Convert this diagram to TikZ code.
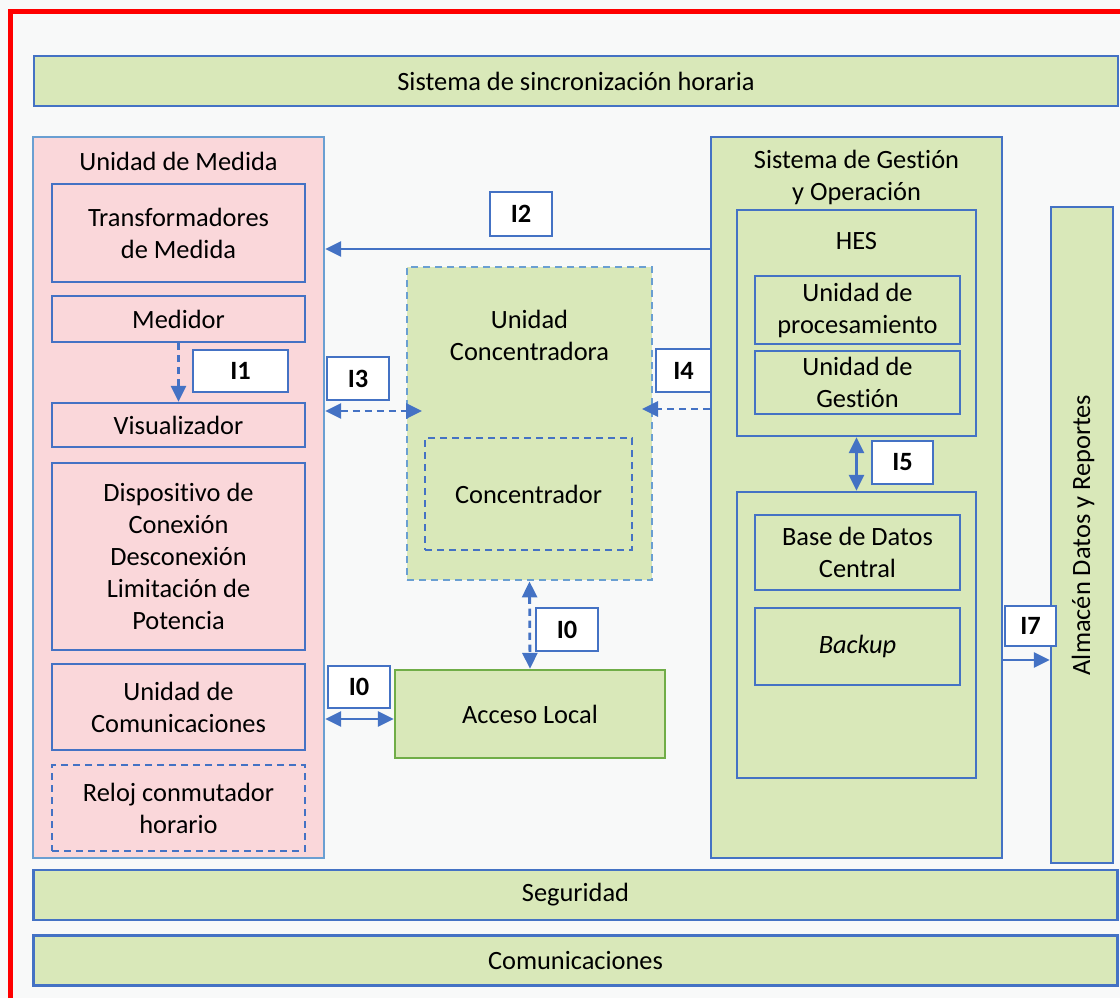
\documentclass[tikz,border=0pt]{standalone}
\usepackage{fontspec}
\setmainfont{Carlito}[Ligatures=NoCommon]
\usetikzlibrary{arrows.meta}
\definecolor{boxgreen}{HTML}{D9E8B9}
\definecolor{boxpink}{HTML}{FAD7DA}
\definecolor{lineblue}{HTML}{4472C4}
\definecolor{paleblue}{HTML}{6A9FD2}
\definecolor{linegreen}{HTML}{70AD47}
\definecolor{paper}{HTML}{F8F9F9}

\begin{document}
\begin{tikzpicture}
[x=0.5pt, y=-0.5pt,
 every node/.style={align=center, font=\fontsize{13.2}{16}\selectfont},
 sz/.style 2 args={minimum width=#1*0.5pt, minimum height=#2*0.5pt},
 box/.style={draw=lineblue, line width=1.2pt, inner sep=0pt},
 bar/.style={box, fill=boxgreen, sz={1084}{50}},
 part/.style={box, fill=boxpink, minimum width=126.5pt},
 unit/.style={box, fill=boxgreen, minimum width=102.5pt},
 dashline/.style={line width=1.4pt, dash pattern=on 3.6pt off 2.4pt},
 tag/.style={box, fill=white, font=\bfseries\fontsize{13.2}{16}\selectfont},
 link/.style={lineblue, line width=1.3pt, -{Triangle[length=8pt, width=7.5pt]}},
 link2/.style={link, {Triangle[length=8pt, width=7.5pt]}-{Triangle[length=8pt, width=7.5pt]}}
]
\useasboundingbox (0,0) rectangle (1120,998);
\fill[paper] (0,0) rectangle (1120,998);
\draw[red, line width=2.6pt] (10.5,998) -- (10.5,11.5) -- (1120,11.5);

\node[bar] (sinc) at (576,81) {Sistema de sincronización horaria};
\node[bar] (seg)  at (575.5,895) {Seguridad};
\node[bar] (com)  at (575.5,960.5) {Comunicaciones};

% unidad de medida
\node[box, draw=paleblue, fill=boxpink, sz={291}{721}] (medida) at (178.5,497.5) {};
\node (medidaT) at (178.5,161) {Unidad de Medida};
\node[part, minimum height=49pt]   (trafo) at (178.5,233)   {Transformadores\\de Medida};
\node[part, minimum height=23pt]   (medidor) at (178.5,319) {Medidor};
\node[part, minimum height=22pt]   (visual) at (178.5,425)  {Visualizador};
\node[part, minimum height=93.5pt] (disp) at (178.5,556.5)  {Dispositivo de\\Conexión\\Desconexión\\Limitación de\\Potencia};
\node[part, minimum height=43pt]   (ucom) at (178.5,707)    {Unidad de\\Comunicaciones};
\node[part, minimum height=43pt, dashline] (reloj) at (178.5,808) {Reloj conmutador\\horario};

% concentradora
\node[box, draw=paleblue, fill=boxgreen, dashline, sz={245}{313}] (conc) at (529.5,423.5) {};
\node (concT) at (529.5,335) {Unidad\\Concentradora};
\node[box, fill=boxgreen, dashline, sz={207}{112}] (concentrador) at (528.5,494) {Concentrador};
\node[box, draw=linegreen, fill=boxgreen, sz={270}{88}] (acceso) at (530,714) {Acceso Local};

% gestion
\node[box, fill=boxgreen, sz={291}{721}] (gestion) at (856.5,497.5) {};
\node (gestionT) at (856.5,177) {Sistema de Gestión\\y Operación};
\node[box, fill=boxgreen, sz={239}{226}] (hes) at (856.5,323) {};
\node (hesT) at (856.5,241) {HES};
\node[unit, minimum height=34pt]   (proc) at (857.5,310)   {Unidad de\\procesamiento};
\node[unit, minimum height=31.5pt] (ugest) at (857.5,382.5) {Unidad de\\Gestión};
\node[box, fill=boxgreen, sz={239}{286}] (datos) at (856.5,635) {};
\node[unit, minimum height=37.5pt] (base) at (857.5,552.5)   {Base de Datos\\Central};
\node[unit, minimum height=38.5pt] (backup) at (857.5,646.5) {\itshape Backup};

\node[box, fill=boxgreen, sz={62}{656}] (almacen) at (1082,535) {};
\node[rotate=90] (almacenT) at (1083,535) {Almacén Datos y Reportes};

% interfaces
\node[tag, sz={95}{42}] (i1) at (240.5,371) {I1};
\node[tag, sz={62}{44}] (i2) at (521,214)   {I2};
\node[tag, sz={62}{43}] (i3) at (358,378.5) {I3};
\node[tag, sz={55}{43}] (i4) at (683.5,370.5) {I4};
\node[tag, sz={61}{43}] (i5) at (902.5,462.5) {I5};
\node[tag, sz={51}{40}] (i7) at (1030.5,626) {I7};
\node[tag, sz={62}{43}] (i0a) at (567,629.5) {I0};
\node[tag, sz={62}{42}] (i0b) at (359,687)   {I0};

\coordinate (i3end) at (422,411);
\coordinate (i4end) at (642,409);

\draw[link, dashline] (medidor.south) -- (visual.north);
\draw[link] (gestion.west |- 0,249) -- (medida.east |- 0,249);
\draw[link2, dashline] (medida.east |- i3end) -- (i3end);
\draw[link, dashline] (gestion.west |- i4end) -- (i4end);
\draw[link2] (hes.south) -- (datos.north);
\draw[link] (gestion.east |- 0,660) -- (almacen.west |- 0,660);
\draw[link2, dashline] (conc.south) -- (acceso.north);
\draw[link2] (medida.east |- 0,719) -- (acceso.west |- 0,719);
\end{tikzpicture}
\end{document}
